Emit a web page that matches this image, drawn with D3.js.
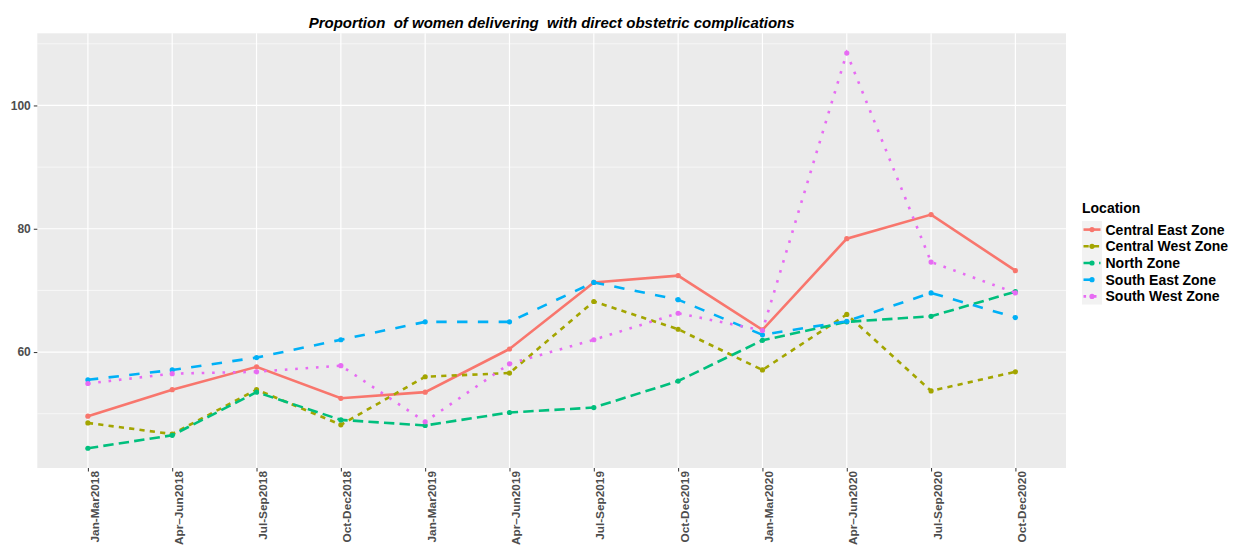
<!DOCTYPE html>
<html>
<head>
<meta charset="utf-8">
<script src="https://cdn.jsdelivr.net/npm/d3@7"></script>
<style>
    body { margin: 0; background: #fff; }
    text { font-family: "Liberation Sans", Arial, sans-serif; }
</style>
</head>
<body>
<script>
//wrap everything in a self-executing anonymous function
(function(){

//quarters on the x axis
var quarters = ["Jan-Mar2018", "Apr\u2013Jun2018", "Jul-Sep2018", "Oct-Dec2018",
    "Jan-Mar2019", "Apr\u2013Jun2019", "Jul-Sep2019", "Oct-Dec2019",
    "Jan-Mar2020", "Apr\u2013Jun2020", "Jul-Sep2020", "Oct-Dec2020"];

//zones (legend order)
var zones = ["Central East Zone", "Central West Zone", "North Zone", "South East Zone", "South West Zone"];

//values, one array per zone
var centralEast = [49.6, 53.9, 57.6, 52.5, 53.5, 60.5, 71.3, 72.4, 63.6, 78.4, 82.3, 73.2];
var centralWest = [48.5, 46.7, 53.9, 48.2, 56.0, 56.6, 68.2, 63.7, 57.1, 66.1, 53.7, 56.8];
var northZone   = [44.4, 46.5, 53.5, 49.0, 48.1, 50.2, 51.0, 55.3, 61.9, 64.9, 65.8, 69.8];
var southEast   = [55.5, 57.1, 59.1, 62.0, 64.9, 64.9, 71.3, 68.5, 62.8, 65.0, 69.6, 65.6];
var southWest   = [54.9, 56.5, 56.8, 57.8, 48.7, 58.1, 62.0, 66.3, 63.5, 108.5, 74.6, 69.6];

//y axis tick values
var yTicks = [60, 80, 100];
var yMinor = [50, 70, 90, 110];

var seriesValues = [centralEast, centralWest, northZone, southEast, southWest];

//ggplot hue palette and linetypes (in multiples of line width)
var colors = ["#F8766D", "#A3A500", "#00BF7D", "#00B0F6", "#E76BF3"];
var dashes = [null, [2, 2], [4, 2], [4, 4], [1, 3]];

var width = 1234,
    height = 548,
    lwd = 2.6;

var panel = {left: 37.3, right: 1066, top: 33.3, bottom: 468};

var svg = d3.select("body")
    .append("svg")
    .attr("width", width)
    .attr("height", height);

//scales: discrete x with 0.6 expansion, continuous y with 5% expansion
var x = d3.scalePoint()
    .domain(quarters)
    .range([panel.left, panel.right])
    .padding(0.6);

var allVals = d3.merge(seriesValues);
var lo = d3.min(allVals), hi = d3.max(allVals), pad = (hi - lo) * 0.05;

var y = d3.scaleLinear()
    .domain([lo - pad, hi + pad])
    .range([panel.bottom, panel.top]);

//panel background
svg.append("rect")
    .attr("x", panel.left)
    .attr("y", panel.top)
    .attr("width", panel.right - panel.left)
    .attr("height", panel.bottom - panel.top)
    .attr("fill", "#EBEBEB");

//minor gridlines
svg.selectAll(".minor")
    .data(yMinor)
    .enter()
    .append("line")
    .attr("class", "minor")
    .attr("x1", panel.left)
    .attr("x2", panel.right)
    .attr("y1", function(d){ return y(d); })
    .attr("y2", function(d){ return y(d); })
    .attr("stroke", "#fff")
    .attr("stroke-width", 0.6);

//major gridlines
svg.selectAll(".hmajor")
    .data(yTicks)
    .enter()
    .append("line")
    .attr("x1", panel.left)
    .attr("x2", panel.right)
    .attr("y1", function(d){ return y(d); })
    .attr("y2", function(d){ return y(d); })
    .attr("stroke", "#fff")
    .attr("stroke-width", 1.2);

svg.selectAll(".vmajor")
    .data(quarters)
    .enter()
    .append("line")
    .attr("x1", function(d){ return x(d); })
    .attr("x2", function(d){ return x(d); })
    .attr("y1", panel.top)
    .attr("y2", panel.bottom)
    .attr("stroke", "#fff")
    .attr("stroke-width", 1.2);

//y axis
var yAxis = svg.append("g")
    .attr("transform", "translate(" + panel.left + ",0)")
    .call(d3.axisLeft(y).tickValues(yTicks).tickSize(3.5).tickPadding(3));
yAxis.select(".domain").remove();
yAxis.selectAll("line").attr("stroke", "#333");
yAxis.selectAll("text")
    .attr("fill", "#4D4D4D")
    .style("font-size", "12px")
    .style("font-weight", "bold");

//x axis
var xAxis = svg.append("g")
    .attr("transform", "translate(0," + panel.bottom + ")")
    .call(d3.axisBottom(x).tickSize(3.5));
xAxis.select(".domain").remove();
xAxis.selectAll("line").attr("stroke", "#333");
xAxis.selectAll("text")
    .attr("fill", "#4D4D4D")
    .style("font-size", "11.8px")
    .style("font-weight", "bold")
    .attr("text-anchor", "end")
    .attr("dy", "0.35em")
    .attr("transform", "translate(6,-3) rotate(-90)")
    .attr("x", -6)
    .attr("y", 0);

//lines and points
var line = d3.line()
    .x(function(d, i){ return x(quarters[i]); })
    .y(function(d){ return y(d); });

seriesValues.forEach(function(vals, k){
    svg.append("path")
        .datum(vals)
        .attr("d", line)
        .attr("fill", "none")
        .attr("stroke", colors[k])
        .attr("stroke-width", lwd)
        .attr("stroke-dasharray", dashes[k] ? dashes[k].map(function(v){ return v * lwd; }).join(",") : null);

    svg.selectAll(".pt" + k)
        .data(vals)
        .enter()
        .append("circle")
        .attr("cx", function(d, i){ return x(quarters[i]); })
        .attr("cy", function(d){ return y(d); })
        .attr("r", 2.6)
        .attr("fill", colors[k]);
});

//title
svg.append("text")
    .attr("x", (panel.left + panel.right) / 2)
    .attr("y", 27.5)
    .attr("text-anchor", "middle")
    .style("white-space", "pre")
    .style("font-size", "15px")
    .style("font-weight", "bold")
    .style("font-style", "italic")
    .text("Proportion  of women delivering  with direct obstetric complications");

//legend
var legend = svg.append("g")
    .attr("transform", "translate(1082,0)");

legend.append("text")
    .attr("x", 0)
    .attr("y", 213)
    .style("font-size", "14px")
    .style("font-weight", "bold")
    .text("Location");

legend.append("rect")
    .attr("x", 0)
    .attr("y", 221)
    .attr("width", 20)
    .attr("height", 83.5)
    .attr("fill", "#F2F2F2");

var keys = legend.selectAll(".key")
    .data(zones)
    .enter()
    .append("g")
    .attr("transform", function(d, i){ return "translate(0," + (229.6 + i * 16.7) + ")"; });

keys.append("line")
    .attr("x1", 1.5)
    .attr("x2", 18.5)
    .attr("stroke", function(d, i){ return colors[i]; })
    .attr("stroke-width", lwd)
    .attr("stroke-dasharray", function(d, i){
        return dashes[i] ? dashes[i].map(function(v){ return v * lwd; }).join(",") : null;
    });

keys.append("circle")
    .attr("cx", 10)
    .attr("r", 2.6)
    .attr("fill", function(d, i){ return colors[i]; });

keys.append("text")
    .attr("x", 23.5)
    .attr("dy", "0.36em")
    .style("font-size", "14px")
    .style("font-weight", "bold")
    .text(function(d){ return d; });

})();
</script>
</body>
</html>
